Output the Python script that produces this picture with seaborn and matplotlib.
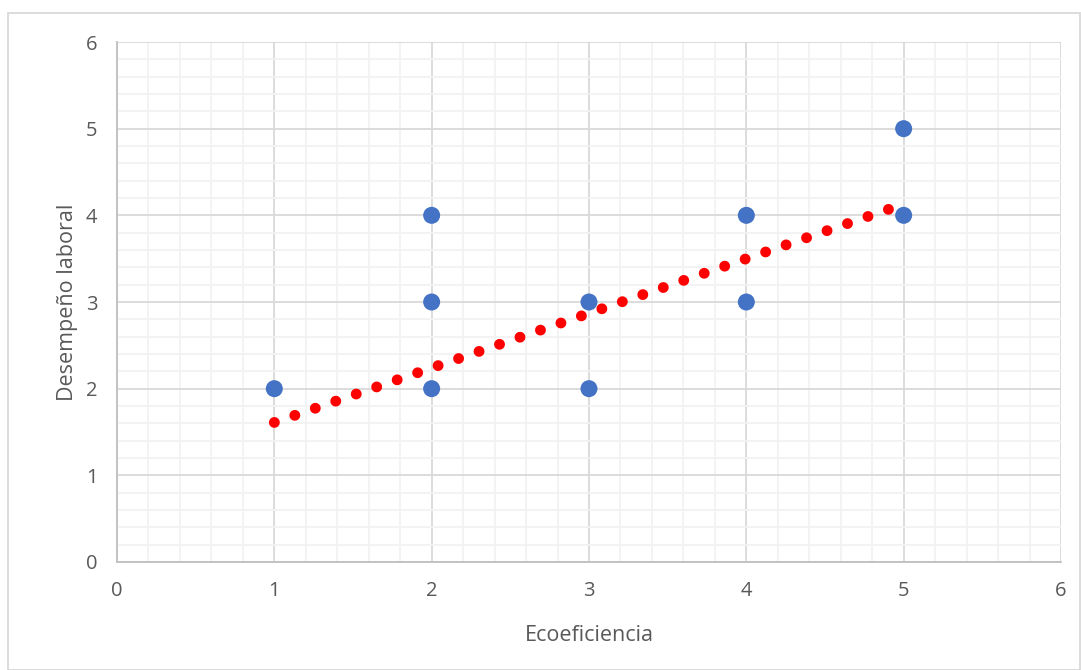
import matplotlib
matplotlib.use("Agg")
import matplotlib.pyplot as plt
import seaborn as sns
import pandas as pd
from matplotlib.ticker import MultipleLocator
from matplotlib.patches import Rectangle

# Data
ecoeficiencia = [1, 2, 2, 2, 3, 3, 4, 4, 5, 5]
desempeno = [2, 4, 3, 2, 3, 2, 4, 3, 5, 4]

# Linear trendline
trend_x = [1, 5]
trend_y = [1.61, 4.13]

df = pd.DataFrame({"x": ecoeficiencia, "y": desempeno})
trend = pd.DataFrame({"x": trend_x, "y": trend_y})

sns.set_style("white")
plt.rcParams["font.family"] = ["Open Sans", "DejaVu Sans"]

fig = plt.figure(figsize=(10.81, 6.70), dpi=100)
ax = fig.add_axes([0.1082, 0.1612, 0.8733, 0.7761])

# Outer chart border
fig.patches.append(Rectangle((8 / 1081, 0.0), 1 - 9 / 1081, 1 - 13 / 670,
                             transform=fig.transFigure, fill=False,
                             edgecolor="#D9D9D9", linewidth=1.3))

sns.lineplot(data=trend, x="x", y="y", ax=ax, color="#FF0000", linewidth=7.8,
             linestyle=(0, (0.01, 1.99)), dash_capstyle="round", zorder=3)
sns.scatterplot(data=df, x="x", y="y", ax=ax, color="#4472C4", s=150,
                edgecolor="none", zorder=4)

ax.set_xlim(0, 6)
ax.set_ylim(0, 6)
ax.xaxis.set_major_locator(MultipleLocator(1))
ax.yaxis.set_major_locator(MultipleLocator(1))
ax.xaxis.set_minor_locator(MultipleLocator(0.2))
ax.yaxis.set_minor_locator(MultipleLocator(0.2))

ax.grid(which="major", color="#D9D9D9", linewidth=1.3, zorder=1)
ax.grid(which="minor", color="#F2F2F2", linewidth=1.3, zorder=0)
ax.set_axisbelow(True)

for side in ["top", "right"]:
    ax.spines[side].set_visible(False)
for side in ["left", "bottom"]:
    ax.spines[side].set_color("#BFBFBF")
    ax.spines[side].set_linewidth(1.3)

ax.tick_params(axis="both", which="major", direction="out", length=5,
               width=1.3, color="#BFBFBF", labelsize=14.5, labelcolor="#595959",
               pad=9)
ax.tick_params(axis="both", which="minor", length=0)

ax.set_xlabel("Ecoeficiencia", fontsize=15.5, color="#595959", labelpad=17)
ax.set_ylabel("Desempeño laboral", fontsize=15.5, color="#595959", labelpad=6)

fig.savefig("out.png", dpi=100)
